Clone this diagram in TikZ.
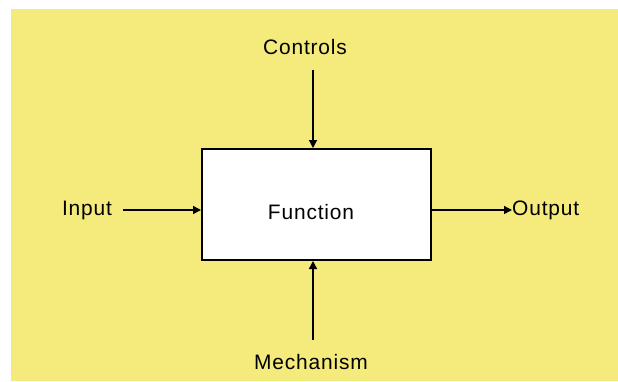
\documentclass[tikz,border=0pt]{standalone}
\usepackage{fontspec}
\setmainfont{Liberation Sans}[LetterSpace=4]
\usetikzlibrary{arrows.meta}
\definecolor{paper}{RGB}{245,234,124}
\tikzset{
  label/.style={font=\fontsize{21}{25}\selectfont, inner sep=0pt, anchor=center},
  flow/.style={line width=1.4bp, -{Triangle[length=8bp,width=8bp]}},
}
\begin{document}
\begin{tikzpicture}[x=1bp, y=-1bp]
  \useasboundingbox (0,0) rectangle (618,381);
  % yellow sheet
  \fill[paper] (11,9) rectangle (618,381);
  % the activity box
  \node[draw=black, fill=white, line width=2bp, minimum width=229bp, minimum height=111bp,
        inner sep=0pt] (func) at (316.5,204.5) {};
  \node[label] (fname) at (311,212) {Function};
  % labels
  \node[label] (ctrl) at (305,47) {Controls};
  \node[label] (mech) at (311,362) {Mechanism};
  \node[label] (inp) at (87,210) {Input};
  \node[label, anchor=west] (outp) at (512,210) {Output};
  \coordinate (ctrlend) at (313,70);
  \coordinate (mechend) at (313,340);
  \coordinate (inpend) at (123,210);
  % connectors
  \draw[flow] (ctrlend) -- (ctrlend |- func.north);
  \draw[flow] (mechend) -- (mechend |- func.south);
  \draw[flow] (inpend) -- (inpend -| func.west);
  \draw[flow] (func.east |- outp.west) -- (outp.west);
\end{tikzpicture}
\end{document}
